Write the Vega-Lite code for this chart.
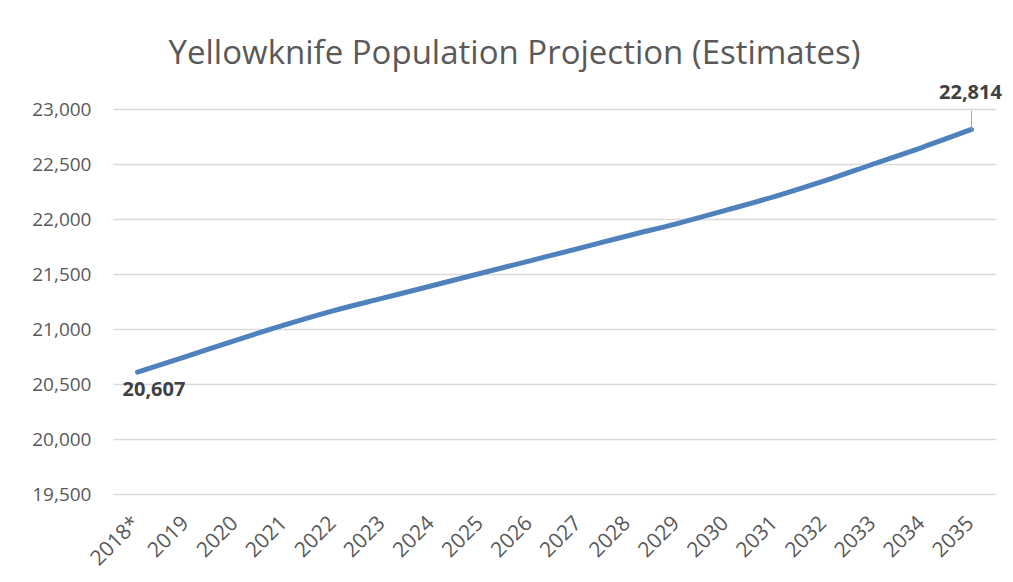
{
  "$schema": "https://vega.github.io/schema/vega-lite/v6.json",
  "width": 883,
  "height": 385,
  "autosize": {"type": "none"},
  "padding": {"left": 113, "top": 109, "right": 17, "bottom": 88},
  "background": "white",
  "config": {"view": {"stroke": null}, "font": "Open Sans"},
  "title": {
    "text": "Yellowknife Population Projection (Estimates)",
    "font": "Open Sans",
    "fontSize": 33,
    "fontWeight": "normal",
    "color": "#595959",
    "anchor": "middle",
    "frame": "group",
    "dx": -40,
    "baseline": "alphabetic",
    "offset": -14
  },
  "data": {
    "values": [
      {"year": "2018*", "population": 20607},
      {"year": "2019", "population": 20751},
      {"year": "2020", "population": 20897},
      {"year": "2021", "population": 21037},
      {"year": "2022", "population": 21167},
      {"year": "2023", "population": 21280},
      {"year": "2024", "population": 21393},
      {"year": "2025", "population": 21507},
      {"year": "2026", "population": 21620},
      {"year": "2027", "population": 21733},
      {"year": "2028", "population": 21848},
      {"year": "2029", "population": 21958},
      {"year": "2030", "population": 22080},
      {"year": "2031", "population": 22206},
      {"year": "2032", "population": 22346},
      {"year": "2033", "population": 22500},
      {"year": "2034", "population": 22652},
      {"year": "2035", "population": 22814}
    ]
  },
  "encoding": {
    "x": {
      "field": "year",
      "type": "ordinal",
      "sort": null,
      "scale": {"type": "point", "padding": 0.5},
      "axis": {
        "title": null,
        "domain": false,
        "ticks": false,
        "labelAngle": -45,
        "labelAlign": "right",
        "labelBaseline": "top",
        "labelFontSize": 21,
        "labelColor": "#595959",
        "labelPadding": 18,
        "labelOffset": -9
      }
    },
    "y": {
      "field": "population",
      "type": "quantitative",
      "scale": {"domain": [19500, 23000], "nice": false, "zero": false},
      "axis": {
        "title": null,
        "values": [19500, 20000, 20500, 21000, 21500, 22000, 22500, 23000],
        "format": ",.0f",
        "domain": false,
        "ticks": false,
        "labelFontSize": 19,
        "labelColor": "#595959",
        "labelPadding": 22,
        "gridColor": "#d9d9d9",
        "gridWidth": 1.3
      }
    }
  },
  "layer": [
    {
      "mark": {"type": "line", "color": "#4f81bd", "strokeWidth": 5, "strokeCap": "round", "interpolate": "monotone"}
    },
    {
      "transform": [{"filter": "datum.year === '2035'"}],
      "mark": {"type": "rule", "color": "#a6a6a6", "strokeWidth": 1},
      "encoding": {"y2": {"datum": 22985}}
    },
    {
      "transform": [{"filter": "datum.year === '2018*'"}],
      "mark": {"type": "text", "align": "left", "baseline": "middle", "dx": -15, "dy": 18, "fontSize": 20, "fontWeight": "bold", "color": "#404040"},
      "encoding": {"text": {"field": "population", "type": "quantitative", "format": ",.0f"}}
    },
    {
      "transform": [{"filter": "datum.year === '2035'"}],
      "mark": {"type": "text", "align": "center", "baseline": "middle", "dx": -1, "dy": -36, "fontSize": 20, "fontWeight": "bold", "color": "#404040"},
      "encoding": {"text": {"field": "population", "type": "quantitative", "format": ",.0f"}}
    }
  ]
}
